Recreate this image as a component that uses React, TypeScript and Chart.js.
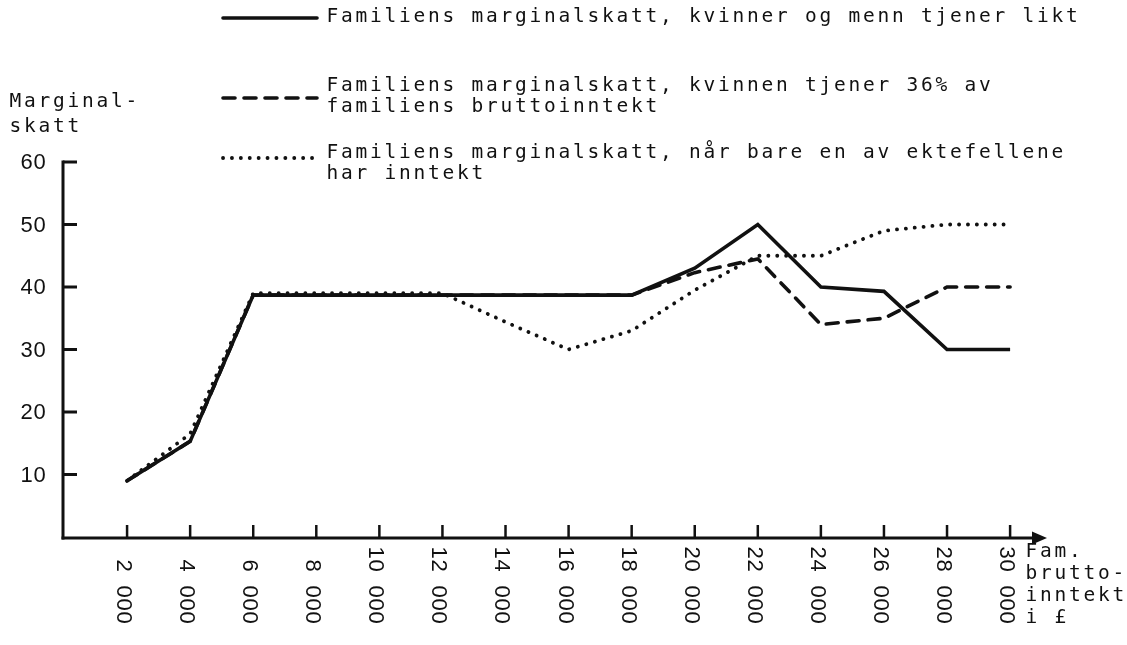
import React, { useEffect, useRef } from 'react';
import { Chart, registerables } from 'chart.js';

Chart.register(...registerables);

// ---- data ----
const incomes = [2000, 4000, 6000, 8000, 10000, 12000, 14000, 16000, 18000, 20000, 22000, 24000, 26000, 28000, 30000];
const tickLabels = ['2 000', '4 000', '6 000', '8 000', '10 000', '12 000', '14 000', '16 000', '18 000', '20 000', '22 000', '24 000', '26 000', '28 000', '30 000'];
const yTicks = [10, 20, 30, 40, 50, 60];
const equalEarners = [9, 15.3, 38.7, 38.7, 38.7, 38.7, 38.7, 38.7, 38.7, 43, 50, 40, 39.3, 30, 30];
const wife36 = [9, 15.3, 38.7, 38.7, 38.7, 38.7, 38.7, 38.7, 38.7, 42.3, 44.5, 34, 35, 40, 40];
const singleEarner = [9, 16.5, 39, 39, 39, 39, 34.4, 30, 33, 39.5, 45, 45, 49, 50, 50];
const legendLabels = [
  ['Familiens marginalskatt, kvinner og menn tjener likt'],
  ['Familiens marginalskatt, kvinnen tjener 36% av', 'familiens bruttoinntekt'],
  ['Familiens marginalskatt, når bare en av ektefellene', 'har inntekt'],
];
const yTitle = ['Marginal-', 'skatt'];
const xTitle = ['Fam.', 'brutto-', 'inntekt', 'i £'];

const INK = '#111111';
const TYPE_FONT = '19.5px "DejaVu Sans Mono"';
const TYPE_ADV = 14.5;
const NUM_FONT = '22px "Liberation Sans"';
const NUM_ADV = 13;

const dashStyles: { dash: number[]; width: number }[] = [
  { dash: [], width: 3.6 },
  { dash: [12, 9], width: 3.6 },
  { dash: [0.1, 8.8], width: 3.8 },
];

function monoText(ctx: CanvasRenderingContext2D, text: string, x: number, y: number, adv: number, align: 'left' | 'right' | 'center') {
  const w = text.length * adv;
  const start = align === 'left' ? x : align === 'right' ? x - w : x - w / 2;
  ctx.textAlign = 'center';
  for (let i = 0; i < text.length; i++) {
    ctx.fillText(text[i], start + i * adv + adv / 2, y);
  }
}

const decorPlugin = {
  id: 'decor',
  beforeDatasetsDraw(chart: any) {
    const ctx: CanvasRenderingContext2D = chart.ctx;
    const xs = chart.scales.x;
    const ys = chart.scales.y;
    const x0 = xs.getPixelForValue(0) - 1;
    const y0 = ys.getPixelForValue(0) + 1;
    const yTop = ys.getPixelForValue(60);
    const xEnd = xs.right;
    ctx.save();
    ctx.strokeStyle = INK;
    ctx.fillStyle = INK;
    ctx.lineCap = 'butt';
    ctx.lineWidth = 3;
    ctx.beginPath();
    ctx.moveTo(x0, yTop - 1.5);
    ctx.lineTo(x0, y0 + 1.5);
    ctx.stroke();
    for (const v of yTicks) {
      const py = ys.getPixelForValue(v);
      ctx.beginPath();
      ctx.moveTo(x0, py);
      ctx.lineTo(x0 + 14, py);
      ctx.stroke();
    }
    ctx.beginPath();
    ctx.moveTo(x0 - 1.5, y0);
    ctx.lineTo(xEnd - 12, y0);
    ctx.stroke();
    ctx.beginPath();
    ctx.moveTo(xEnd, y0);
    ctx.lineTo(xEnd - 15, y0 - 6.5);
    ctx.lineTo(xEnd - 15, y0 + 6.5);
    ctx.closePath();
    ctx.fill();
    ctx.lineWidth = 2.5;
    for (const v of incomes) {
      const px = xs.getPixelForValue(v);
      ctx.beginPath();
      ctx.moveTo(px, y0);
      ctx.lineTo(px, y0 - 13);
      ctx.stroke();
    }
    ctx.restore();
  },
  afterDraw(chart: any) {
    const ctx: CanvasRenderingContext2D = chart.ctx;
    const xs = chart.scales.x;
    const ys = chart.scales.y;
    const x0 = xs.getPixelForValue(0);
    ctx.save();
    ctx.fillStyle = INK;
    ctx.textBaseline = 'middle';
    ctx.font = NUM_FONT;
    for (const v of yTicks) {
      monoText(ctx, String(v), x0 - 18, ys.getPixelForValue(v) + 1, NUM_ADV, 'right');
    }
    incomes.forEach((v, i) => {
      const px = xs.getPixelForValue(v);
      ctx.save();
      ctx.translate(px - 4, 624);
      ctx.rotate(Math.PI / 2);
      monoText(ctx, tickLabels[i], 0, 0, NUM_ADV, 'right');
      ctx.restore();
    });
    ctx.font = TYPE_FONT;
    yTitle.forEach((t, i) => monoText(ctx, t, 8, 102 + i * 25, TYPE_ADV, 'left'));
    xTitle.forEach((t, i) => monoText(ctx, t, 1024, 552 + i * 22, TYPE_ADV, 'left'));
    const legendY = [17, 86, 153];
    const sampleY = [18, 98, 158];
    legendLabels.forEach((lines, k) => {
      ctx.save();
      ctx.strokeStyle = INK;
      ctx.lineWidth = dashStyles[k].width;
      ctx.lineCap = 'round';
      ctx.setLineDash(dashStyles[k].dash);
      ctx.beginPath();
      ctx.moveTo(223, sampleY[k]);
      ctx.lineTo(317, sampleY[k]);
      ctx.stroke();
      ctx.restore();
      lines.forEach((t, j) => monoText(ctx, t, 325, legendY[k] + j * 21, TYPE_ADV, 'left'));
    });
    ctx.restore();
  },
};

export default function App() {
  const ref = useRef<HTMLCanvasElement>(null);
  useEffect(() => {
    if (!ref.current) return;
    const series = [equalEarners, wife36, singleEarner];
    const chart = new Chart(ref.current, {
      type: 'line',
      data: {
        datasets: series.map((vals, k) => ({
          label: legendLabels[k].join(' '),
          data: incomes.map((x, i) => ({ x, y: vals[i] })),
          borderColor: INK,
          borderWidth: dashStyles[k].width,
          borderDash: dashStyles[k].dash,
          borderCapStyle: k === 0 ? 'butt' : 'round',
          borderJoinStyle: 'miter',
          pointRadius: 0,
          tension: 0,
          fill: false,
          clip: false,
        })) as any,
      },
      options: {
        responsive: false,
        animation: false,
        events: [],
        layout: { padding: { left: 64, right: 80, top: 162, bottom: 108 } },
        scales: {
          x: { type: 'linear', min: 0, max: 31170, display: false },
          y: { type: 'linear', min: 0, max: 60, display: false },
        },
        plugins: { legend: { display: false }, tooltip: { enabled: false } },
      },
      plugins: [decorPlugin],
    });
    return () => chart.destroy();
  }, []);
  return (
    <div style={{ position: 'fixed', left: 0, top: 0, width: 1127, height: 645, background: '#ffffff' }}>
      <canvas ref={ref} width={1127} height={645} style={{ display: 'block' }} />
    </div>
  );
}
